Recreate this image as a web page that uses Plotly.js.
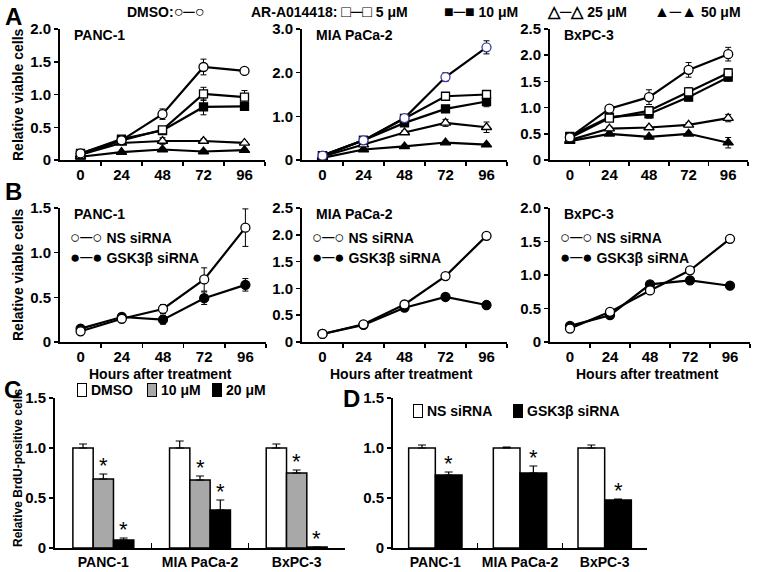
<!DOCTYPE html>
<html>
<head>
<meta charset="utf-8">
<script src="https://cdn.plot.ly/plotly-3.0.1.min.js"></script>
<style>
  body { margin: 0; background: #fff; }
  #fig { width: 759px; height: 572px; }
</style>
</head>
<body>
<div id="fig"></div>
<script>
const hours = [0, 24, 48, 72, 96];
const cellLines = ['PANC-1', 'MIA PaCa-2', 'BxPC-3'];
const doseNames = ['DMSO', '5 μM', '10 μM', '25 μM', '50 μM'];
const siNames = ['NS siRNA', 'GSK3β siRNA'];
const brduDoses = ['DMSO', '10 μM', '20 μM'];

// A: AR-A014418 dose series (rows follow doseNames)
const aPanc1 = [
  [0.10, 0.30, 0.70, 1.42, 1.36],
  [0.08, 0.30, 0.46, 1.01, 0.96],
  [0.10, 0.32, 0.45, 0.81, 0.82],
  [0.08, 0.26, 0.29, 0.29, 0.26],
  [0.05, 0.12, 0.16, 0.13, 0.15]
];
const aPanc1Err = [
  [0.02, 0.02, 0.08, 0.12, 0.04],
  [0.02, 0.02, 0.03, 0.10, 0.10],
  [0.02, 0.02, 0.03, 0.12, 0.06],
  [0.01, 0.02, 0.05, 0.03, 0.02],
  [0.01, 0.01, 0.02, 0.02, 0.02]
];
const aMia = [
  [0.10, 0.45, 0.96, 1.90, 2.58],
  [0.10, 0.45, 0.95, 1.46, 1.50],
  [0.10, 0.45, 0.85, 1.17, 1.34],
  [0.08, 0.35, 0.63, 0.85, 0.75],
  [0.05, 0.24, 0.31, 0.40, 0.35]
];
const aMiaErr = [
  [0.02, 0.03, 0.05, 0.10, 0.15],
  [0.02, 0.03, 0.04, 0.08, 0.08],
  [0.02, 0.03, 0.04, 0.08, 0.12],
  [0.02, 0.03, 0.04, 0.08, 0.12],
  [0.01, 0.02, 0.03, 0.03, 0.03]
];
const aBxpc = [
  [0.43, 0.98, 1.20, 1.72, 2.02],
  [0.42, 0.80, 0.94, 1.30, 1.66],
  [0.45, 0.82, 0.88, 1.20, 1.58],
  [0.38, 0.60, 0.62, 0.67, 0.80],
  [0.36, 0.50, 0.44, 0.50, 0.33]
];
const aBxpcErr = [
  [0.03, 0.03, 0.14, 0.14, 0.13],
  [0.03, 0.05, 0.06, 0.08, 0.08],
  [0.03, 0.05, 0.08, 0.07, 0.07],
  [0.03, 0.04, 0.03, 0.04, 0.07],
  [0.03, 0.03, 0.03, 0.03, 0.10]
];

// B: siRNA series (rows follow siNames)
const bPanc1 = [[0.12, 0.26, 0.37, 0.70, 1.28], [0.15, 0.28, 0.25, 0.49, 0.64]];
const bPanc1Err = [[0.02, 0.03, 0.05, 0.13, 0.21], [0.02, 0.04, 0.05, 0.07, 0.07]];
const bMia = [[0.15, 0.33, 0.70, 1.23, 1.98], [0.15, 0.32, 0.64, 0.84, 0.69]];
const bMiaErr = [[0.02, 0.03, 0.04, 0.03, 0.03], [0.02, 0.03, 0.06, 0.03, 0.03]];
const bBxpc = [[0.20, 0.45, 0.77, 1.07, 1.54], [0.24, 0.40, 0.86, 0.92, 0.84]];
const bBxpcErr = [[0.02, 0.02, 0.02, 0.02, 0.02], [0.02, 0.02, 0.02, 0.02, 0.02]];

// C, D: BrdU (rows follow brduDoses / siNames, columns follow cellLines)
const cBrdu = [[1.00, 1.00, 1.00], [0.69, 0.68, 0.75], [0.08, 0.38, 0.01]];
const cBrduErr = [[0.04, 0.07, 0.04], [0.05, 0.04, 0.03], [0.02, 0.10, 0.00]];
const dBrdu = [[1.00, 1.00, 1.00], [0.73, 0.75, 0.48]];
const dBrduErr = [[0.03, 0.01, 0.03], [0.03, 0.07, 0.01]];

const W = 759, H = 572;
const FONT = 'Liberation Sans, Arial, sans-serif';
const fx = v => v / W;
const fy = v => 1 - v / H;
const bold = size => ({ family: FONT, size: size, color: 'black', weight: 'bold' });
const BARGAP = 0.37;

const doseSymbol = ['circle', 'square', 'square', 'triangle-up', 'triangle-up'];
const doseSize = [9, 8, 8, 9, 9];
const doseFill = ['white', 'white', 'black', 'white', 'black'];
const siFill = ['white', 'black'];

const linePanels = [
  { n: 1, x: [60, 265], y: [29, 160], max: 2, step: 0.5, data: aPanc1, err: aPanc1Err, kind: 'dose', title: cellLines[0] },
  { n: 2, x: [302, 507], y: [29, 160], max: 3, step: 1, data: aMia, err: aMiaErr, kind: 'dose', title: cellLines[1] },
  { n: 3, x: [550, 748], y: [29, 160], max: 2.5, step: 0.5, data: aBxpc, err: aBxpcErr, kind: 'dose', title: cellLines[2] },
  { n: 4, x: [60, 266], y: [208, 342], max: 1.5, step: 0.5, data: bPanc1, err: bPanc1Err, kind: 'si', title: cellLines[0] },
  { n: 5, x: [302, 507], y: [208, 342], max: 2.5, step: 0.5, data: bMia, err: bMiaErr, kind: 'si', title: cellLines[1] },
  { n: 6, x: [550, 750], y: [208, 342], max: 2, step: 0.5, data: bBxpc, err: bBxpcErr, kind: 'si', title: cellLines[2] }
];

function yTicks(max, step) {
  const v = [];
  for (let t = 0; t <= max + 1e-9; t += step) v.push(+t.toFixed(2));
  return v;
}

function yAxis(p, anchor) {
  const tv = yTicks(p.max, p.step);
  return {
    domain: [fy(p.y[1]), fy(p.y[0])], anchor: anchor, range: [0, p.max],
    tickvals: tv, ticktext: tv.map(t => t === 0 ? '0' : t.toFixed(1)),
    ticks: 'outside', ticklen: 4, tickwidth: 1.5, tickcolor: 'black',
    showline: true, linecolor: 'black', linewidth: 2,
    showgrid: false, zeroline: false, tickfont: bold(15), fixedrange: true
  };
}

function hoursAxis(p, anchor) {
  return {
    domain: [fx(p.x[0]), fx(p.x[1])], anchor: anchor, range: [-12, 108],
    tickvals: hours, ticktext: hours.map(String), ticks: '', tickangle: 0,
    minor: { tickmode: 'array', tickvals: [12, 36, 60, 84, 108], ticks: 'outside', ticklen: 4, tickwidth: 1.5, tickcolor: 'black', showgrid: false },
    showline: true, linecolor: 'black', linewidth: 2,
    showgrid: false, zeroline: false, tickfont: bold(15), fixedrange: true
  };
}

const traces = [];
const layout = {
  width: W, height: H, margin: { l: 0, r: 0, t: 0, b: 0 },
  paper_bgcolor: 'white', plot_bgcolor: 'white',
  showlegend: false, barmode: 'group', bargap: BARGAP, bargroupgap: 0,
  font: { family: FONT, color: 'black' },
  annotations: []
};
const ann = layout.annotations;

function note(text, x, y, size, opts) {
  ann.push(Object.assign({
    xref: 'paper', yref: 'paper', x: fx(x), y: fy(y), text: text,
    showarrow: false, xanchor: 'left', yanchor: 'middle', font: bold(size)
  }, opts || {}));
}

// legend swatch for bars: a small bordered box
function swatch(fill, x, y) {
  note(' ', x, y, 10, {
    bgcolor: fill, bordercolor: 'black', borderwidth: 1, borderpad: 0,
    width: 8, height: 12
  });
}

linePanels.forEach(p => {
  const sx = p.n === 1 ? '' : p.n;
  const xa = 'x' + sx, ya = 'y' + sx;
  layout['xaxis' + sx] = hoursAxis(p, ya);
  layout['yaxis' + sx] = yAxis(p, xa);
  for (let i = p.data.length - 1; i >= 0; i--) {
    const dose = p.kind === 'dose';
    const edge = (p.n === 2 && i === 0) ? '#3a3aa0' : 'black';
    traces.push({
      type: 'scatter', mode: 'lines+markers', x: hours, y: p.data[i],
      name: dose ? doseNames[i] : siNames[i],
      xaxis: xa, yaxis: ya, cliponaxis: false,
      line: { color: 'black', width: 2.2 },
      marker: {
        symbol: dose ? doseSymbol[i] : 'circle', size: dose ? doseSize[i] : 9,
        color: dose ? doseFill[i] : siFill[i], line: { color: edge, width: 1.3 }
      },
      error_y: { type: 'data', array: p.err[i], color: 'black', thickness: 1, width: 3 }
    });
  }
  note(p.title, p.x[0] + 12, p.y[0] + 6, 14);
  if (p.kind === 'si') {
    const gx = p.x[0] + 8;
    note('<span style="font-size:17px">○─○</span> ' + siNames[0], gx, 238, 14);
    note('<span style="font-size:17px">●─●</span> ' + siNames[1], gx, 257, 14);
    note('Hours after treatment', (p.x[0] + p.x[1]) / 2 - 3, 374, 14, { xanchor: 'center' });
  }
});

// bar panels
const barPanels = [
  { n: 7, x: [55, 345], y: [398, 548], data: cBrdu, err: cBrduErr, names: brduDoses, fills: ['white', '#a8a8a8', 'black'] },
  { n: 8, x: [393, 647], y: [398, 548], data: dBrdu, err: dBrduErr, names: siNames, fills: ['white', 'black'] }
];

barPanels.forEach(p => {
  const xa = 'x' + p.n, ya = 'y' + p.n;
  layout['xaxis' + p.n] = {
    domain: [fx(p.x[0]), fx(p.x[1])], anchor: ya, type: 'category',
    categoryarray: cellLines, tickson: 'boundaries', ticks: 'inside', ticklen: 5, tickangle: 0,
    tickwidth: 1.5, tickcolor: 'black', showline: true, linecolor: 'black', linewidth: 2,
    showgrid: false, zeroline: false, tickfont: bold(14), fixedrange: true
  };
  layout['yaxis' + p.n] = yAxis({ y: p.y, max: 1.5, step: 0.5 }, xa);
  const nb = p.data.length;
  const bw = (1 - BARGAP) / nb;
  p.data.forEach((vals, i) => {
    traces.push({
      type: 'bar', x: cellLines, y: vals, name: p.names[i], xaxis: xa, yaxis: ya,
      marker: { color: p.fills[i], line: { color: 'black', width: 1.5 } },
      error_y: { type: 'data', symmetric: false, array: p.err[i], arrayminus: vals.map(() => 0), color: 'black', thickness: 1.2, width: 4 }
    });
    if (i > 0) {
      vals.forEach((v, c) => {
        ann.push({
          xref: xa, yref: ya, x: c - (1 - BARGAP) / 2 + (i + 0.5) * bw, y: v + p.err[i][c],
          text: '*', showarrow: false, xanchor: 'center', yanchor: 'bottom', yshift: -6,
          font: { family: FONT, size: 22, color: 'black' }
        });
      });
    }
  });
});

// axis titles
note('Relative viable cells', 18, 95, 14, { xanchor: 'center', textangle: -90 });
note('Relative viable cells', 18, 275, 14, { xanchor: 'center', textangle: -90 });
note('Relative BrdU-positive cells', 18, 468, 12, { xanchor: 'center', textangle: -90 });

// panel letters
note('A', 3, 17, 24);
note('B', 3, 191, 24);
note('C', 2, 389, 24);
note('D', 341, 398, 24);

// top legend for A
note('DMSO:<span style="font-size:16px">○─○</span>', 125, 12, 14);
note('AR-A014418: <span style="font-size:16px">□─□</span> 5 μM', 249, 12, 14);
note('<span style="font-size:16px">■─■</span> 10 μM', 442, 12, 14);
note('<span style="font-size:16px">△─△</span> 25 μM', 545, 12, 14);
note('<span style="font-size:16px">▲─▲</span> 50 μM', 652, 12, 14);

// legends for C and D
const cLegendX = [77, 147, 212];
brduDoses.forEach((name, i) => {
  swatch(barPanels[0].fills[i], cLegendX[i], 390);
  note(name, cLegendX[i] + 12, 390, 14);
});
const dLegendX = [413, 513];
siNames.forEach((name, i) => {
  swatch(barPanels[1].fills[i], dLegendX[i], 411);
  note(name, dLegendX[i] + 12, 411, 14);
});

Plotly.newPlot('fig', traces, layout, { displayModeBar: false, staticPlot: true });
</script>
</body>
</html>
